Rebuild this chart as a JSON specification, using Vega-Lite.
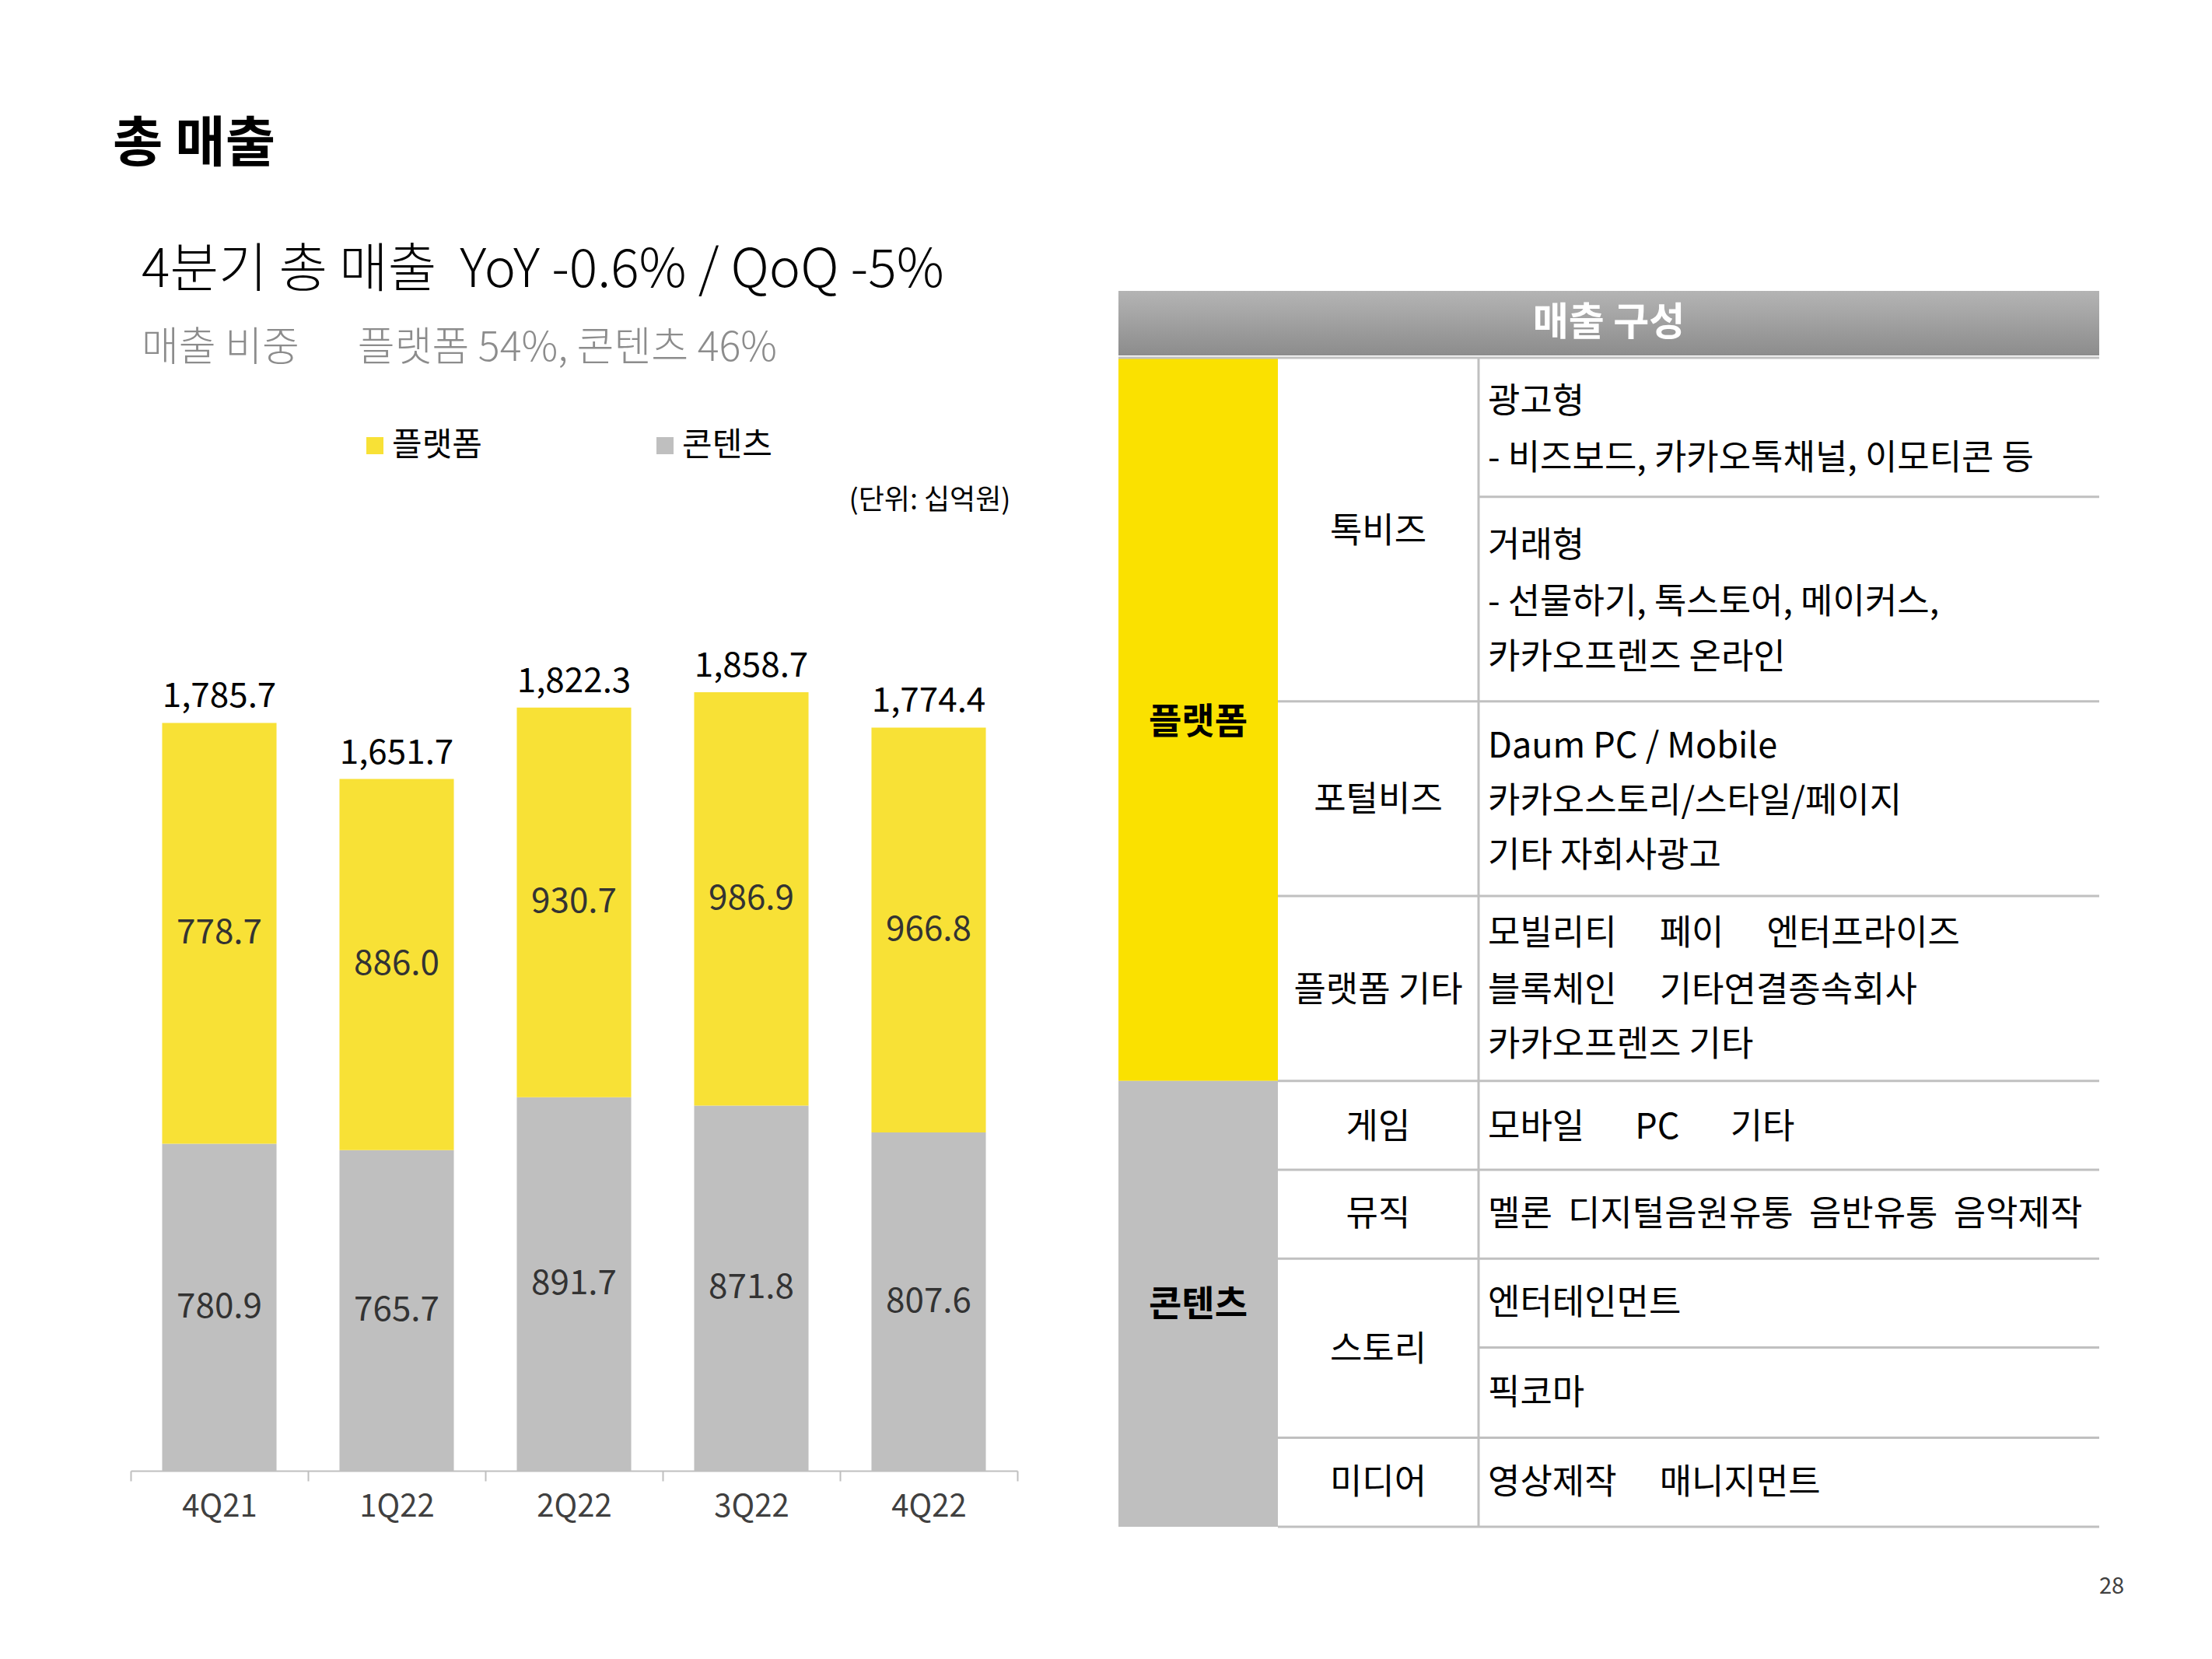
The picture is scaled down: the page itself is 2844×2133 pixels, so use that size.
{
  "$schema": "https://vega.github.io/schema/vega-lite/v6.json",
  "background": "white",
  "padding": {"left": 145, "top": 152, "right": 20, "bottom": 20},
  "title": {"text": "총 매출", "anchor": "start", "dx": -22, "fontSize": 70, "fontWeight": "bold", "color": "#000000", "offset": 92},
  "datasets": {
    "segments": [
      {"quarter": "4Q21", "series": "콘텐츠", "ord": 0, "value": 780.9, "label": "780.9"},
      {"quarter": "4Q21", "series": "플랫폼", "ord": 1, "value": 1004.8, "label": "778.7"},
      {"quarter": "1Q22", "series": "콘텐츠", "ord": 0, "value": 765.7, "label": "765.7"},
      {"quarter": "1Q22", "series": "플랫폼", "ord": 1, "value": 886.0, "label": "886.0"},
      {"quarter": "2Q22", "series": "콘텐츠", "ord": 0, "value": 891.7, "label": "891.7"},
      {"quarter": "2Q22", "series": "플랫폼", "ord": 1, "value": 930.7, "label": "930.7"},
      {"quarter": "3Q22", "series": "콘텐츠", "ord": 0, "value": 871.8, "label": "871.8"},
      {"quarter": "3Q22", "series": "플랫폼", "ord": 1, "value": 986.9, "label": "986.9"},
      {"quarter": "4Q22", "series": "콘텐츠", "ord": 0, "value": 807.6, "label": "807.6"},
      {"quarter": "4Q22", "series": "플랫폼", "ord": 1, "value": 966.8, "label": "966.8"}
    ],
    "totals": [
      {"quarter": "4Q21", "value": 1785.7},
      {"quarter": "1Q22", "value": 1651.7},
      {"quarter": "2Q22", "value": 1822.3},
      {"quarter": "3Q22", "value": 1858.7},
      {"quarter": "4Q22", "value": 1774.4}
    ],
    "header": [
      {"c0": 0, "c1": 1261, "r0": 0, "r1": 83}
    ],
    "groups": [
      {"group": "플랫폼", "c0": 0, "c1": 205, "r0": 87, "r1": 1015.7},
      {"group": "콘텐츠", "c0": 0, "c1": 205, "r0": 1015.7, "r1": 1589}
    ],
    "lines": [
      {"c0": 0, "c1": 1261, "r0": 86, "r1": 86},
      {"c0": 463, "c1": 1261, "r0": 264.8, "r1": 264.8},
      {"c0": 205, "c1": 1261, "r0": 527.8, "r1": 527.8},
      {"c0": 205, "c1": 1261, "r0": 778.1, "r1": 778.1},
      {"c0": 205, "c1": 1261, "r0": 1015.7, "r1": 1015.7},
      {"c0": 205, "c1": 1261, "r0": 1130, "r1": 1130},
      {"c0": 205, "c1": 1261, "r0": 1244.3, "r1": 1244.3},
      {"c0": 463, "c1": 1261, "r0": 1358.5, "r1": 1358.5},
      {"c0": 205, "c1": 1261, "r0": 1474.6, "r1": 1474.6},
      {"c0": 205, "c1": 1261, "r0": 1589, "r1": 1589},
      {"c0": 463, "c1": 463, "r0": 87, "r1": 1589}
    ],
    "tabletext": [
      {"kind": "header", "text": "매출 구성", "c0": 630.5, "r0": 41.7},
      {"kind": "col1", "text": "플랫폼", "c0": 102.5, "r0": 555},
      {"kind": "col1", "text": "콘텐츠", "c0": 102.5, "r0": 1304},
      {"kind": "col2", "text": "톡비즈", "c0": 334, "r0": 310.2},
      {"kind": "col2", "text": "포털비즈", "c0": 334, "r0": 654.8},
      {"kind": "col2", "text": "플랫폼 기타", "c0": 334, "r0": 899.6},
      {"kind": "col2", "text": "게임", "c0": 334, "r0": 1075.6},
      {"kind": "col2", "text": "뮤직", "c0": 334, "r0": 1188},
      {"kind": "col2", "text": "스토리", "c0": 334, "r0": 1362.2},
      {"kind": "col2", "text": "미디어", "c0": 334, "r0": 1532.7},
      {"kind": "col3", "text": "광고형", "c0": 475, "r0": 143.3},
      {"kind": "col3", "text": "- 비즈보드, 카카오톡채널, 이모티콘 등", "c0": 475, "r0": 215.8},
      {"kind": "col3", "text": "거래형", "c0": 475, "r0": 328.3},
      {"kind": "col3", "text": "- 선물하기, 톡스토어, 메이커스,", "c0": 475, "r0": 400.8},
      {"kind": "col3", "text": "카카오프렌즈 온라인", "c0": 475, "r0": 471.6},
      {"kind": "col3", "text": "Daum PC / Mobile", "c0": 475, "r0": 585.9},
      {"kind": "col3", "text": "카카오스토리/스타일/페이지", "c0": 475, "r0": 656.6},
      {"kind": "col3", "text": "기타 자회사광고", "c0": 475, "r0": 727.3},
      {"kind": "col3", "text": "모빌리티\u3000\u00a0페이\u3000\u00a0엔터프라이즈", "c0": 475, "r0": 827.1},
      {"kind": "col3", "text": "블록체인\u3000\u00a0기타연결종속회사", "c0": 475, "r0": 899.6},
      {"kind": "col3", "text": "카카오프렌즈 기타", "c0": 475, "r0": 970.4},
      {"kind": "col3", "text": "모바일\u3000\u00a0\u00a0PC\u3000\u00a0\u00a0기타", "c0": 475, "r0": 1075.6},
      {"kind": "col3", "text": "멜론\u00a0\u00a0디지털음원유통\u00a0\u00a0음반유통\u00a0\u00a0음악제작", "c0": 475, "r0": 1188},
      {"kind": "col3", "text": "엔터테인먼트", "c0": 475, "r0": 1302.3},
      {"kind": "col3", "text": "픽코마", "c0": 475, "r0": 1418.4},
      {"kind": "col3", "text": "영상제작\u3000\u00a0매니지먼트", "c0": 475, "r0": 1532.7},
      {"kind": "page", "text": "28", "c0": 1277, "r0": 1666}
    ]
  },
  "spacing": 127,
  "resolve": {"scale": {"x": "independent", "y": "independent", "color": "independent"}, "legend": {"color": "independent"}},
  "hconcat": [
    {
      "width": 1140,
      "height": 1077,
      "title": {
        "text": "4분기 총 매출\u00a0\u00a0YoY -0.6% / QoQ -5%",
        "subtitle": "매출 비중\u3000\u00a0\u00a0플랫폼 54%, 콘텐츠 46%",
        "anchor": "start", "frame": "group", "dx": 14,
        "fontSize": 68, "fontWeight": 300, "color": "#000000",
        "subtitleFontSize": 52, "subtitleFontWeight": 300, "subtitleColor": "#8c8c8c",
        "subtitlePadding": 40, "offset": 78
      },
      "data": {"name": "segments"},
      "encoding": {
        "x": {
          "field": "quarter", "type": "nominal", "sort": null,
          "scale": {"domain": ["4Q21", "1Q22", "2Q22", "3Q22", "4Q22"], "paddingInner": 0, "paddingOuter": 0},
          "axis": {"title": null, "labelAngle": 0, "tickBand": "extent", "domainColor": "#BFBFBF", "tickColor": "#BFBFBF", "domainWidth": 2, "tickWidth": 2, "tickSize": 13, "labelFontSize": 40, "labelColor": "#404040", "labelPadding": 13, "grid": false}
        },
        "y": {
          "field": "value", "type": "quantitative", "title": "(단위: 십억원)",
          "scale": {"domain": [0, 2000], "nice": false, "zero": true},
          "axis": {"orient": "right", "labels": false, "ticks": false, "domain": false, "grid": false, "titleAngle": 0, "titleX": -9, "titleY": -171, "titleAlign": "right", "titleBaseline": "middle", "titleFontSize": 36, "titleFontWeight": "normal", "titleColor": "#000000"}
        }
      },
      "layer": [
        {
          "mark": {"type": "bar", "width": {"band": 0.645}},
          "encoding": {
            "color": {
              "field": "series", "type": "nominal",
              "scale": {"domain": ["플랫폼", "콘텐츠"], "range": ["#F8E136", "#BFBFBF"]},
              "legend": {"orient": "none", "legendX": 293, "legendY": -262, "direction": "horizontal", "columns": 2, "columnPadding": 214, "title": null, "symbolType": "square", "symbolSize": 484, "symbolStrokeWidth": 0, "labelFontSize": 42, "labelColor": "#000000", "labelOffset": 1}
            },
            "order": {"field": "ord", "type": "quantitative", "sort": "ascending"}
          }
        },
        {
          "transform": [
            {"stack": "value", "groupby": ["quarter"], "sort": [{"field": "ord", "order": "ascending"}], "as": ["lo", "hi"]},
            {"fold": ["lo", "hi"], "as": ["edge", "pos"]},
            {"aggregate": [{"op": "mean", "field": "pos", "as": "value"}], "groupby": ["quarter", "series", "label"]}
          ],
          "mark": {"type": "text", "fontSize": 44, "color": "#333333", "baseline": "middle"},
          "encoding": {"text": {"field": "label"}}
        },
        {
          "data": {"name": "totals"},
          "mark": {"type": "text", "fontSize": 44, "fontWeight": "normal", "color": "#000000", "baseline": "alphabetic", "dy": -20},
          "encoding": {"text": {"field": "value", "type": "quantitative", "format": ",.1f"}}
        }
      ]
    },
    {
      "width": 1261,
      "height": 1149,
      "encoding": {
        "x": {"field": "c0", "type": "quantitative", "scale": {"domain": [0, 1261], "nice": false, "zero": false}, "axis": null},
        "y": {"field": "r0", "type": "quantitative", "scale": {"domain": [440, 1589], "reverse": true, "nice": false, "zero": false}, "axis": null}
      },
      "layer": [
        {
          "data": {"name": "header"},
          "mark": {"type": "rect", "fill": {"gradient": "linear", "x1": 0, "y1": 0, "x2": 0, "y2": 1, "stops": [{"offset": 0, "color": "#b4b4b4"}, {"offset": 1, "color": "#8c8c8c"}]}},
          "encoding": {"x2": {"field": "c1"}, "y2": {"field": "r1"}}
        },
        {
          "data": {"name": "groups"},
          "mark": {"type": "rect"},
          "encoding": {
            "x2": {"field": "c1"}, "y2": {"field": "r1"},
            "color": {"field": "group", "type": "nominal", "scale": {"domain": ["플랫폼", "콘텐츠"], "range": ["#FAE100", "#BFBFBF"]}, "legend": null}
          }
        },
        {
          "data": {"name": "lines"},
          "mark": {"type": "rule", "color": "#C0C0C0", "strokeWidth": 3},
          "encoding": {"x2": {"field": "c1"}, "y2": {"field": "r1"}}
        },
        {
          "data": {"name": "tabletext"},
          "transform": [{"filter": {"field": "kind", "equal": "header"}}],
          "mark": {"type": "text", "fontSize": 50, "fontWeight": "bold", "color": "#ffffff", "align": "center", "baseline": "middle"},
          "encoding": {"text": {"field": "text"}}
        },
        {
          "data": {"name": "tabletext"},
          "transform": [{"filter": {"field": "kind", "equal": "col1"}}],
          "mark": {"type": "text", "fontSize": 46, "fontWeight": "bold", "color": "#000000", "align": "center", "baseline": "middle"},
          "encoding": {"text": {"field": "text"}}
        },
        {
          "data": {"name": "tabletext"},
          "transform": [{"filter": {"field": "kind", "equal": "col2"}}],
          "mark": {"type": "text", "fontSize": 45, "color": "#000000", "align": "center", "baseline": "middle"},
          "encoding": {"text": {"field": "text"}}
        },
        {
          "data": {"name": "tabletext"},
          "transform": [{"filter": {"field": "kind", "equal": "col3"}}],
          "mark": {"type": "text", "fontSize": 45, "color": "#000000", "align": "left", "baseline": "middle"},
          "encoding": {"text": {"field": "text"}}
        },
        {
          "data": {"name": "tabletext"},
          "transform": [{"filter": {"field": "kind", "equal": "page"}}],
          "mark": {"type": "text", "fontSize": 29, "color": "#404040", "align": "center", "baseline": "middle"},
          "encoding": {"text": {"field": "text"}}
        }
      ]
    }
  ],
  "config": {
    "font": "Noto Sans CJK KR",
    "view": {"stroke": null},
    "text": {"font": "Noto Sans CJK KR"},
    "title": {"font": "Noto Sans CJK KR", "subtitleFont": "Noto Sans CJK KR"},
    "axis": {"labelFont": "Noto Sans CJK KR", "titleFont": "Noto Sans CJK KR"},
    "legend": {"labelFont": "Noto Sans CJK KR"}
  }
}
